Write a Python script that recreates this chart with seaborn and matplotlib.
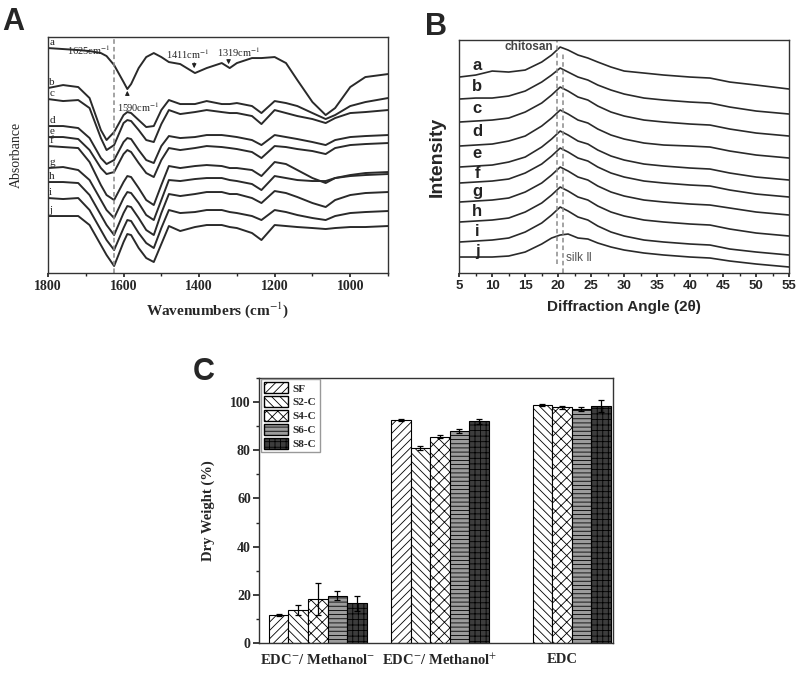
import numpy as np
import pandas as pd
import seaborn as sns
import matplotlib.pyplot as plt
from matplotlib.ticker import MultipleLocator
from matplotlib.patches import Patch

# ---- Panel A: FTIR traces (stacked, arbitrary units)
wavenumber = [1800, 1760, 1720, 1690, 1660, 1645, 1625, 1600, 1590, 1580, 1560, 1540,
              1520, 1500, 1480, 1450, 1411, 1380, 1340, 1319, 1300, 1260, 1235, 1200,
              1170, 1140, 1100, 1065, 1040, 1000, 960, 900]
ftir_a = [225, 224, 223, 222, 220, 217, 208, 191, 184, 189, 205, 216, 220, 216, 211, 209,
          200, 205, 210, 205, 210, 215, 215, 216, 210, 193, 171, 158, 165, 186, 196, 199]
ftir_b = [185, 188, 186, 175, 143, 133, 141, 158, 161, 160, 153, 146, 147, 163, 173, 169,
          169, 172, 169, 169, 170, 167, 160, 172, 170, 167, 160, 154, 158, 167, 171, 175]
ftir_c = [174, 172, 173, 165, 135, 123, 128, 150, 153, 152, 143, 133, 131, 149, 163, 159,
          161, 163, 161, 160, 160, 157, 149, 163, 160, 157, 154, 150, 155, 160, 161, 163]
ftir_d = [147, 147, 145, 135, 115, 109, 113, 131, 135, 134, 123, 113, 110, 127, 137, 135,
          136, 138, 138, 137, 136, 133, 128, 138, 136, 134, 131, 128, 133, 136, 137, 138]
ftir_e = [136, 136, 134, 123, 105, 99, 101, 119, 123, 121, 110, 100, 96, 113, 125, 123,
          125, 127, 126, 125, 124, 121, 115, 127, 126, 124, 122, 119, 125, 128, 129, 130]
ftir_f = [127, 126, 125, 111, 88, 78, 73, 91, 97, 96, 85, 73, 68, 88, 107, 105,
          107, 108, 107, 105, 105, 103, 97, 111, 109, 103, 95, 90, 95, 98, 100, 101]
ftir_g = [105, 106, 103, 93, 73, 63, 55, 75, 81, 80, 70, 58, 53, 73, 93, 92,
          94, 95, 95, 93, 92, 89, 83, 97, 95, 93, 92, 92, 95, 97, 98, 99]
ftir_h = [91, 91, 90, 78, 58, 48, 38, 60, 67, 66, 55, 43, 38, 60, 79, 77,
          79, 81, 81, 79, 79, 75, 70, 82, 80, 76, 70, 66, 73, 78, 80, 81]
ftir_i = [75, 74, 75, 63, 43, 33, 23, 45, 53, 52, 40, 30, 25, 45, 63, 60,
          61, 63, 63, 61, 60, 57, 53, 63, 61, 58, 55, 53, 57, 60, 61, 62]
ftir_j = [57, 57, 57, 48, 28, 18, 7, 31, 39, 38, 25, 15, 11, 29, 47, 42,
          46, 48, 48, 46, 45, 40, 33, 48, 47, 46, 45, 44, 45, 46, 46, 47]
ftir_traces = [ftir_a, ftir_b, ftir_c, ftir_d, ftir_e, ftir_f, ftir_g, ftir_h, ftir_i, ftir_j]
trace_labels = ['a', 'b', 'c', 'd', 'e', 'f', 'g', 'h', 'i', 'j']
wn_ticks = [1800, 1600, 1400, 1200, 1000]

# ---- Panel B: XRD traces (stacked, arbitrary units)
two_theta = [5, 7.5, 10, 12.5, 15, 17.5, 19, 20.3, 21.5, 23, 24.5, 26, 28, 30, 33, 36, 40,
             43, 46, 50, 55]
xrd_a = [196, 198, 202, 201, 203, 211, 218, 226, 223, 218, 215, 211, 206, 202, 200, 198, 196, 195, 191, 188, 184]
xrd_b = [174, 175, 175, 177, 182, 191, 198, 205, 201, 196, 193, 188, 183, 179, 175, 173, 171, 170, 166, 162, 159]
xrd_c = [151, 152, 153, 155, 161, 170, 178, 186, 182, 176, 173, 167, 161, 157, 153, 151, 149, 148, 144, 140, 137]
xrd_d = [127, 128, 129, 132, 137, 147, 155, 163, 159, 153, 150, 144, 138, 134, 130, 128, 127, 126, 122, 118, 115]
xrd_e = [106, 107, 108, 111, 116, 126, 134, 142, 138, 132, 129, 123, 117, 113, 109, 107, 105, 104, 100, 96, 93]
xrd_f = [90, 91, 92, 94, 100, 109, 117, 125, 121, 115, 112, 106, 100, 96, 92, 90, 88, 87, 83, 79, 76]
xrd_g = [71, 72, 73, 75, 81, 90, 98, 106, 102, 96, 93, 87, 81, 77, 73, 71, 69, 68, 65, 61, 58]
xrd_h = [51, 52, 53, 55, 61, 70, 78, 86, 82, 76, 73, 67, 61, 57, 53, 51, 49, 48, 44, 40, 37]
xrd_i = [31, 32, 33, 35, 41, 50, 58, 66, 62, 56, 53, 47, 41, 37, 33, 31, 29, 28, 24, 21, 18]
xrd_j = [16, 16, 16, 17, 21, 29, 35, 38, 39, 35, 34, 30, 26, 23, 20, 18, 16, 15, 12, 9, 6]
xrd_traces = [xrd_a, xrd_b, xrd_c, xrd_d, xrd_e, xrd_f, xrd_g, xrd_h, xrd_i, xrd_j]
xrd_label_y = [208, 187, 165, 142, 120, 100, 82, 62, 42, 22]
tt_ticks = [5, 10, 15, 20, 25, 30, 35, 40, 45, 50, 55]

# ---- Panel C: dry weight (%)
groups = ['EDC$^{-}$/ Methanol$^{-}$', 'EDC$^{-}$/ Methanol$^{+}$', 'EDC']
samples = ['SF', 'S2-C', 'S4-C', 'S6-C', 'S8-C']
dw_sf = [11.7, 92.6, np.nan]
dw_s2 = [13.8, 81.0, 98.7]
dw_s4 = [18.3, 85.7, 97.8]
dw_s6 = [19.7, 88.0, 97.1]
dw_s8 = [16.5, 92.0, 98.2]
err_sf = [0.4, 0.5, np.nan]
err_s2 = [2.0, 0.9, 0.5]
err_s4 = [6.8, 0.6, 0.5]
err_s6 = [1.7, 1.0, 1.0]
err_s8 = [3.2, 0.9, 2.5]
dw_ticks = [0, 20, 40, 60, 80, 100]

bar_faces = ['white', 'white', 'white', '#9c9c9c', '#3d3d3d']
bar_hatches = ['////', '\\\\\\\\', 'xxx', '----', '+++']

sns.set_theme(style='ticks')
plt.rcParams['font.family'] = ['Liberation Serif', 'DejaVu Serif']
plt.rcParams['mathtext.fontset'] = 'stix'
plt.rcParams['hatch.linewidth'] = 0.6
plt.rcParams['axes.linewidth'] = 1.0
plt.rcParams['axes.edgecolor'] = '#333333'
SANS = ['Liberation Sans', 'DejaVu Sans']

fig = plt.figure(figsize=(8, 6.8), dpi=100)
axA = fig.add_axes([0.06, 0.5985, 0.425, 0.347])
axB = fig.add_axes([0.574, 0.5985, 0.4125, 0.3426])
axC = fig.add_axes([0.324, 0.0544, 0.4425, 0.3897])

# ---------------- A
for lab, ys in zip(trace_labels, ftir_traces):
    sns.lineplot(x=wavenumber, y=ys, ax=axA, color='#2a2a2a', lw=1.4)
    axA.text(1797, ys[0] + 1, lab, fontsize=8, ha='left', va='bottom', color='#222')
axA.axvline(1625, color='#8a8a8a', ls=(0, (3, 2)), lw=1.1)
axA.text(1636, 223, '1625cm$^{-1}$', fontsize=7.5, ha='right', va='center')
axA.text(1617, 166, '1590cm$^{-1}$', fontsize=7.5, ha='left', va='center')
axA.text(1430, 219, '1411cm$^{-1}$', fontsize=7.5, ha='center', va='center')
axA.text(1295, 221, '1319cm$^{-1}$', fontsize=7.5, ha='center', va='center')
arrow = dict(arrowstyle='-|>', color='#222', lw=0.8, mutation_scale=6)
axA.annotate('', xy=(1590, 185), xytext=(1590, 175), arrowprops=arrow)
axA.annotate('', xy=(1413, 202), xytext=(1413, 213), arrowprops=arrow)
axA.annotate('', xy=(1322, 206), xytext=(1322, 215), arrowprops=arrow)
axA.set_xlim(1800, 900)
axA.set_ylim(0, 236)
axA.set_yticks([])
axA.set_xticks(wn_ticks)
axA.set_xticklabels([str(t) for t in wn_ticks], fontweight='bold', fontsize=10)
axA.xaxis.set_minor_locator(MultipleLocator(100))
axA.tick_params(axis='x', which='major', direction='out', length=3, pad=2)
axA.tick_params(axis='x', which='minor', direction='out', length=2)
axA.set_xlabel('Wavenumbers (cm$^{-1}$)', fontweight='bold', fontsize=11)
axA.xaxis.set_label_coords(0.5, -0.115)
axA.set_ylabel('Absorbance', fontsize=10)
axA.yaxis.set_label_coords(-0.075, 0.5)

# ---------------- B
for ys in xrd_traces:
    sns.lineplot(x=two_theta, y=ys, ax=axB, color='#2a2a2a', lw=1.2)
for lab, ly in zip(trace_labels, xrd_label_y):
    axB.text(7.7, ly, lab, fontsize=12, fontweight='bold', family=SANS, ha='center', va='center', color='#222')
axB.axvline(19.8, ymin=0.04, ymax=1.0, color='#8a8a8a', ls=(0, (3, 2)), lw=1.1)
axB.axvline(20.7, ymin=0.0, ymax=0.95, color='#8a8a8a', ls=(0, (3, 2)), lw=1.1)
axB.text(19.3, 226, 'chitosan', fontsize=8.5, fontweight='bold', family=SANS, ha='right', va='center', color='#444')
axB.text(21.2, 15, 'silk Ⅱ', fontsize=8.5, family=SANS, ha='left', va='center', color='#555')
axB.set_xlim(5, 55)
axB.set_ylim(0, 233)
axB.set_yticks([])
axB.set_xticks(tt_ticks)
axB.set_xticklabels([str(t) for t in tt_ticks], fontweight='bold', fontsize=9.5, family=SANS)
axB.xaxis.set_minor_locator(MultipleLocator(2.5))
axB.tick_params(axis='x', which='major', direction='out', length=3, pad=2)
axB.tick_params(axis='x', which='minor', direction='out', length=2)
axB.set_xlabel('Diffraction Angle (2θ)', fontweight='bold', fontsize=11, family=SANS)
axB.xaxis.set_label_coords(0.5, -0.115)
axB.set_ylabel('Intensity', fontweight='bold', fontsize=14, family=SANS)
axB.yaxis.set_label_coords(-0.042, 0.5)

# ---------------- C
rows = []
for s, vals, errs in zip(samples, [dw_sf, dw_s2, dw_s4, dw_s6, dw_s8],
                         [err_sf, err_s2, err_s4, err_s6, err_s8]):
    for g, v, e in zip(groups, vals, errs):
        rows.append({'group': g, 'sample': s, 'dry': v, 'err': e})
df = pd.DataFrame(rows).dropna()

sns.barplot(data=df, x='group', y='dry', hue='sample', order=groups, hue_order=samples,
            errorbar=None, width=0.8, edgecolor='black', linewidth=0.8, legend=False, ax=axC)
for cont, s, fc, hatch in zip(axC.containers, samples, bar_faces, bar_hatches):
    sub = df[df['sample'] == s]
    for bar in cont:
        bar.set_facecolor(fc)
        bar.set_hatch(hatch)
        cx = bar.get_x() + bar.get_width() / 2
        g = groups[int(round(cx))]
        e = sub.loc[sub['group'] == g, 'err'].iloc[0]
        axC.errorbar(cx, bar.get_height(), yerr=e, fmt='none', ecolor='black',
                     elinewidth=0.9, capsize=2.5, capthick=0.9)

handles = [Patch(facecolor=fc, edgecolor='black', hatch=h, label=s)
           for s, fc, h in zip(samples, bar_faces, bar_hatches)]
axC.legend(handles=handles, loc='upper left', bbox_to_anchor=(0.004, 0.996), frameon=True,
           fancybox=False, edgecolor='#999999', framealpha=1,
           prop={'family': 'Liberation Serif', 'weight': 'bold', 'size': 8},
           handlelength=2.2, handleheight=1.1, labelspacing=0.25, borderpad=0.3,
           handletextpad=0.4, borderaxespad=0)
axC.set_xlim(-0.48, 2.42)
axC.set_ylim(0, 110)
axC.set_yticks(dw_ticks)
axC.set_yticklabels([str(t) for t in dw_ticks], fontweight='bold', fontsize=10)
axC.yaxis.set_minor_locator(MultipleLocator(10))
axC.tick_params(axis='y', which='major', direction='out', length=4, pad=2)
axC.tick_params(axis='y', which='minor', direction='out', length=2.5)
axC.set_xticks(range(len(groups)))
axC.set_xticklabels(groups, fontweight='bold', fontsize=10.5)
axC.tick_params(axis='x', length=0, pad=7)
axC.set_xlabel('')
axC.set_ylabel('Dry Weight (%)', fontweight='bold', fontsize=10.5)
axC.yaxis.set_label_coords(-0.124, 0.5)

# panel letters
fig.text(0.003, 0.99, 'A', fontsize=22, fontweight='bold', family=SANS, va='top')
fig.text(0.531, 0.982, 'B', fontsize=22, fontweight='bold', family=SANS, va='top')
fig.text(0.241, 0.475, 'C', fontsize=22, fontweight='bold', family=SANS, va='top')

fig.savefig('out.png', dpi=100)
